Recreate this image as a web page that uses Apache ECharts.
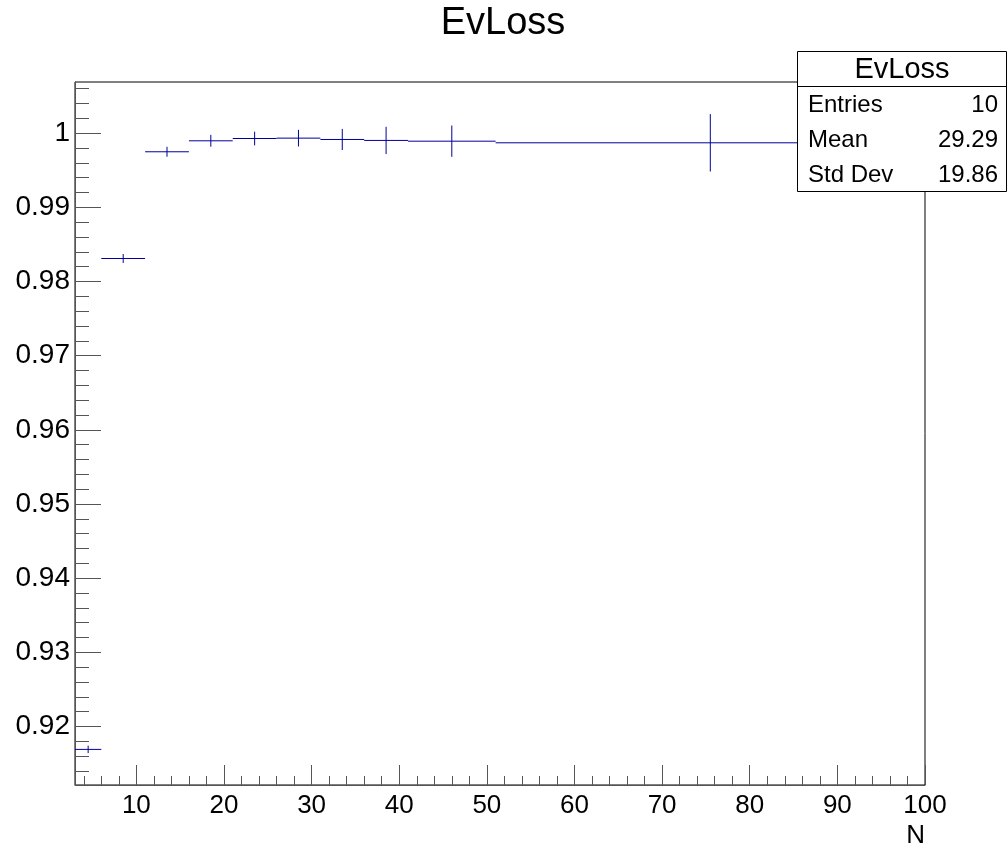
<!DOCTYPE html>
<html>
<head>
<meta charset="utf-8">
<title>EvLoss</title>
<script src="https://cdn.jsdelivr.net/npm/echarts@6/dist/echarts.min.js"></script>
<style>
  html, body { margin: 0; padding: 0; background: #ffffff; }
  #chart { width: 1007px; height: 849px; }
</style>
</head>
<body>
<div id="chart"></div>
<script>
// Histogram bins (variable width) of EvLoss versus N
const binLow  = [3, 6, 11, 16, 21, 26, 31, 36, 41, 51];
const binHigh = [6, 11, 16, 21, 26, 31, 36, 41, 51, 100];
const binValues = [0.9169, 0.9831, 0.99749, 0.99897, 0.99928, 0.99933, 0.99915, 0.99902, 0.99892, 0.99870];
const binErrors = [0.0005, 0.0006, 0.00067, 0.0008, 0.00092, 0.00112, 0.00142, 0.00184, 0.00211, 0.00387];

// Axis ticks
const xMajorTicks = [10, 20, 30, 40, 50, 60, 70, 80, 90, 100];
const xMinorTicks = [4, 6, 8, 12, 14, 16, 18, 22, 24, 26, 28, 32, 34, 36, 38, 42, 44, 46, 48,
  52, 54, 56, 58, 62, 64, 66, 68, 72, 74, 76, 78, 82, 84, 86, 88, 92, 94, 96, 98];
const yMajorTicks = [0.92, 0.93, 0.94, 0.95, 0.96, 0.97, 0.98, 0.99, 1.00];
const yMinorTicks = [0.914, 0.916, 0.918, 0.922, 0.924, 0.926, 0.928, 0.932, 0.934, 0.936, 0.938,
  0.942, 0.944, 0.946, 0.948, 0.952, 0.954, 0.956, 0.958, 0.962, 0.964, 0.966, 0.968,
  0.972, 0.974, 0.976, 0.978, 0.982, 0.984, 0.986, 0.988, 0.992, 0.994, 0.996, 0.998,
  1.002, 1.004, 1.006];

// Statistics box
const statsTitle = 'EvLoss';
const statsNames = ['Entries', 'Mean', 'Std Dev'];
const statsValues = ['10', '29.29', '19.86'];

const X_MIN = 3, X_MAX = 100;
const Y_MIN = 0.9121, Y_MAX = 1.0069;

const FONT = '"Liberation Sans", Arial, Helvetica, sans-serif';
const HIST_COLOR = '#000099';
const AXIS_COLOR = '#555555';
const BOX_Z = 100;

const histData = binLow.map((lo, i) => [lo, binHigh[i], binValues[i], binErrors[i]]);

const chart = echarts.init(document.getElementById('chart'), null, { renderer: 'canvas' });

function fmtY(v) { return String(+(+v).toFixed(2)); }

const gridBox = { left: 75, top: 82, width: 850, height: 703 };

// Statistics box elements, placed in page pixels
const BOX_X = 797, BOX_Y = 51, BOX_W = 209, BOX_H = 140;
const statRows = statsNames.map((name, i) => {
  const y = BOX_Y + 54 + i * 35;
  return [
    { type: 'text', z: BOX_Z + 2, x: BOX_X + 11, y: y,
      style: { text: name, font: '24px ' + FONT, fill: '#000000', align: 'left', verticalAlign: 'middle' } },
    { type: 'text', z: BOX_Z + 2, x: BOX_X + 201, y: y,
      style: { text: statsValues[i], font: '24px ' + FONT, fill: '#000000', align: 'right', verticalAlign: 'middle' } }
  ];
}).flat();

const option = {
  animation: false,
  backgroundColor: '#ffffff',
  title: {
    text: 'EvLoss',
    left: 498, top: 0,
    textAlign: 'center',
    textStyle: { fontFamily: FONT, fontSize: 38, fontWeight: 'normal', color: '#000000' }
  },
  grid: Object.assign({ show: true, borderColor: '#000000', borderWidth: 1, backgroundColor: '#ffffff' }, gridBox),
  xAxis: [
    {
      type: 'value', min: X_MIN, max: X_MAX, position: 'bottom',
      axisLine: { show: true, onZero: false, lineStyle: { color: AXIS_COLOR, width: 1 } },
      axisTick: { show: true, inside: true, length: 20, customValues: xMajorTicks, lineStyle: { color: AXIS_COLOR } },
      axisLabel: { show: true, customValues: xMajorTicks, margin: 8, fontFamily: FONT, fontSize: 26, color: '#000000' },
      splitLine: { show: false }
    },
    {
      type: 'value', min: X_MIN, max: X_MAX, gridIndex: 0, position: 'bottom', offset: 0,
      axisLine: { show: false, onZero: false },
      axisTick: { show: true, inside: true, length: 9, customValues: xMinorTicks, lineStyle: { color: AXIS_COLOR } },
      axisLabel: { show: false },
      splitLine: { show: false }
    }
  ],
  yAxis: [
    {
      type: 'value', min: Y_MIN, max: Y_MAX, position: 'left',
      axisLine: { show: true, onZero: false, lineStyle: { color: AXIS_COLOR, width: 1 } },
      axisTick: { show: true, inside: true, length: 26, customValues: yMajorTicks, lineStyle: { color: AXIS_COLOR } },
      axisLabel: { show: true, customValues: yMajorTicks, margin: 5, fontFamily: FONT, fontSize: 28, color: '#000000', formatter: fmtY },
      splitLine: { show: false }
    },
    {
      type: 'value', min: Y_MIN, max: Y_MAX, gridIndex: 0, position: 'left', offset: 0,
      axisLine: { show: false, onZero: false },
      axisTick: { show: true, inside: true, length: 14, customValues: yMinorTicks, lineStyle: { color: AXIS_COLOR } },
      axisLabel: { show: false },
      splitLine: { show: false }
    }
  ],
  series: [
    {
      type: 'custom',
      xAxisIndex: 0, yAxisIndex: 0,
      clip: true,
      z: 2,
      data: histData,
      encode: { x: [0, 1], y: [2] },
      renderItem: function (params, api) {
        const lo = api.value(0), hi = api.value(1), y = api.value(2), e = api.value(3);
        const c = (lo + hi) / 2;
        const a = api.coord([lo, y]);
        const b = api.coord([hi, y]);
        const t = api.coord([c, y + e]);
        const u = api.coord([c, y - e]);
        return {
          type: 'group',
          children: [
            { type: 'line', shape: { x1: a[0], y1: a[1], x2: b[0], y2: b[1] },
              style: { stroke: HIST_COLOR, lineWidth: 1 } },
            { type: 'line', shape: { x1: t[0], y1: t[1], x2: u[0], y2: u[1] },
              style: { stroke: HIST_COLOR, lineWidth: 1 } }
          ]
        };
      }
    }
  ],
  graphic: {
    elements: [
      // x-axis title
      {
        type: 'text', right: 82, top: 823, z: 10,
        style: { text: 'N', font: '26px ' + FONT, fill: '#000000' }
      },
      // statistics box
      { type: 'rect', z: BOX_Z, shape: { x: BOX_X + 0.5, y: BOX_Y + 0.5, width: BOX_W, height: BOX_H },
        style: { fill: '#ffffff', stroke: '#000000', lineWidth: 1 } },
      { type: 'line', z: BOX_Z + 1, shape: { x1: BOX_X + 0.5, y1: BOX_Y + 35.5, x2: BOX_X + BOX_W + 0.5, y2: BOX_Y + 35.5 },
        style: { stroke: '#000000', lineWidth: 1 } },
      { type: 'text', z: BOX_Z + 2, x: BOX_X + 105, y: BOX_Y + 19,
        style: { text: statsTitle, font: '29px ' + FONT, fill: '#000000', align: 'center', verticalAlign: 'middle' } }
    ].concat(statRows)
  }
};

chart.setOption(option);
</script>
</body>
</html>
